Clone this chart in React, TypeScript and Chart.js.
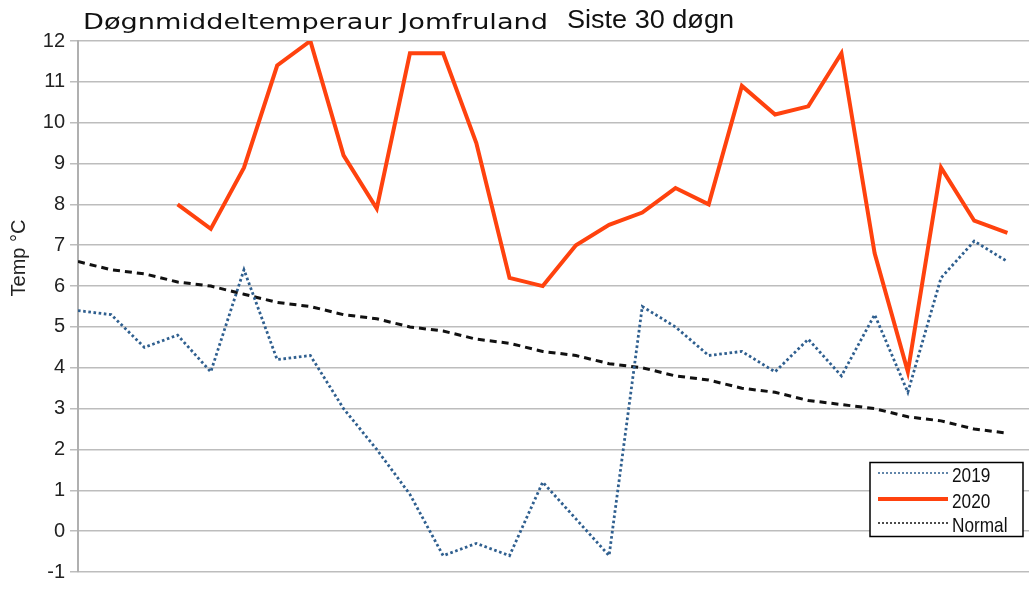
import React, { useEffect, useRef } from "react";
import { Chart, registerables } from "chart.js";

Chart.register(...registerables);

// ---- data ----
const titleMain = "Døgnmiddeltemperaur Jomfruland";
const titleSub = "Siste 30 døgn";
const yAxisTitle = "Temp °C";

const days = [1, 2, 3, 4, 5, 6, 7, 8, 9, 10, 11, 12, 13, 14, 15, 16, 17, 18, 19, 20, 21, 22, 23, 24, 25, 26, 27, 28, 29];

const seriesNames = ["2019", "2020", "Normal"];

const temp2019 = [5.4, 5.3, 4.5, 4.8, 3.9, 6.4, 4.2, 4.3, 3.0, 2.0, 0.9, -0.6, -0.3, -0.6, 1.2, 0.3, -0.6, 5.5, 5.0, 4.3, 4.4, 3.9, 4.7, 3.8, 5.3, 3.4, 6.2, 7.1, 6.6];
const temp2020 = [null, null, null, 8.0, 7.4, 8.9, 11.4, 12.0, 9.2, 7.9, 11.7, 11.7, 9.5, 6.2, 6.0, 7.0, 7.5, 7.8, 8.4, 8.0, 10.9, 10.2, 10.4, 11.7, 6.8, 3.9, 8.9, 7.6, 7.3];
const tempNormal = [6.6, 6.4, 6.3, 6.1, 6.0, 5.8, 5.6, 5.5, 5.3, 5.2, 5.0, 4.9, 4.7, 4.6, 4.4, 4.3, 4.1, 4.0, 3.8, 3.7, 3.5, 3.4, 3.2, 3.1, 3.0, 2.8, 2.7, 2.5, 2.4];

const yMin = -1;
const yMax = 12;

// ---- helpers ----
function toPoints(values: (number | null)[]) {
  return values.map((v, i) => ({ x: i, y: v }));
}

function drawFitText(
  ctx: CanvasRenderingContext2D,
  text: string,
  x: number,
  y: number,
  width: number,
  font: string
) {
  ctx.save();
  ctx.font = font;
  ctx.textAlign = "left";
  ctx.textBaseline = "alphabetic";
  const w = ctx.measureText(text).width;
  ctx.translate(x, y);
  ctx.scale(width / w, 1);
  ctx.fillText(text, 0, 0);
  ctx.restore();
}

const COLOR_2019 = "#2f5f8f";
const COLOR_2020 = "#ff420e";
const COLOR_NORMAL = "#111111";

const decorPlugin = {
  id: "decor",
  afterDraw(chart: any) {
    const ctx: CanvasRenderingContext2D = chart.ctx;
    // titles
    ctx.save();
    ctx.fillStyle = "#111";
    drawFitText(ctx, titleMain, 83, 29, 465, "21px 'DejaVu Sans'");
    drawFitText(ctx, titleSub, 567, 28, 167, "25px 'Liberation Sans'");
    ctx.restore();

    // y axis title
    ctx.save();
    ctx.fillStyle = "#222";
    ctx.font = "20px 'Liberation Sans'";
    ctx.textAlign = "center";
    ctx.textBaseline = "middle";
    ctx.translate(19, 258);
    ctx.rotate(-Math.PI / 2);
    ctx.fillText(yAxisTitle, 0, 0);
    ctx.restore();

    // legend box
    const bx = 870, by = 462.5, bw = 153, bh = 74;
    ctx.save();
    ctx.fillStyle = "#ffffff";
    ctx.fillRect(bx, by, bw, bh);
    ctx.strokeStyle = "#000";
    ctx.lineWidth = 1.5;
    ctx.strokeRect(bx, by, bw, bh);

    const rows = [
      { name: seriesNames[0], color: COLOR_2019, width: 1.5, dash: [2, 2], y: 473, base: 482 },
      { name: seriesNames[1], color: COLOR_2020, width: 4, dash: [], y: 499, base: 508 },
      { name: seriesNames[2], color: COLOR_NORMAL, width: 1.5, dash: [2, 2], y: 523, base: 532 },
    ];
    rows.forEach((r) => {
      ctx.save();
      ctx.strokeStyle = r.color;
      ctx.lineWidth = r.width;
      ctx.setLineDash(r.dash);
      ctx.beginPath();
      ctx.moveTo(878, r.y);
      ctx.lineTo(948, r.y);
      ctx.stroke();
      ctx.restore();
      ctx.save();
      ctx.fillStyle = "#111";
      ctx.font = "21px 'Liberation Sans'";
      ctx.textBaseline = "alphabetic";
      ctx.translate(952, r.base);
      ctx.scale(0.82, 1);
      ctx.fillText(r.name, 0, 0);
      ctx.restore();
    });
    ctx.restore();
  },
};

export default function App() {
  const canvasRef = useRef<HTMLCanvasElement | null>(null);

  useEffect(() => {
    if (!canvasRef.current) return;
    const chart = new Chart(canvasRef.current, {
      type: "line",
      data: {
        labels: days,
        datasets: [
          {
            label: seriesNames[0],
            data: toPoints(temp2019) as any,
            borderColor: COLOR_2019,
            borderWidth: 2.8,
            borderDash: [2.6, 2.6],
            borderCapStyle: "butt",
            pointRadius: 0,
            tension: 0,
            fill: false,
          },
          {
            label: seriesNames[1],
            data: toPoints(temp2020) as any,
            borderColor: COLOR_2020,
            borderWidth: 4,
            pointRadius: 0,
            tension: 0,
            fill: false,
            spanGaps: false,
          },
          {
            label: seriesNames[2],
            data: toPoints(tempNormal) as any,
            borderColor: COLOR_NORMAL,
            borderWidth: 3,
            borderDash: [7, 5],
            pointRadius: 0,
            tension: 0,
            fill: false,
          },
        ],
      },
      options: {
        responsive: false,
        animation: false,
        devicePixelRatio: 1,
        layout: { padding: { top: 41, bottom: 8, left: 0, right: 0 } },
        plugins: {
          legend: { display: false },
          title: { display: false },
          tooltip: { enabled: false },
        },
        scales: {
          x: {
            type: "linear",
            min: 0,
            max: 28.65,
            display: false,
          },
          y: {
            min: yMin,
            max: yMax,
            afterFit: (scale: any) => {
              scale.width = 78;
            },
            ticks: {
              stepSize: 1,
              padding: 5,
              color: "#222",
              font: { family: "'Liberation Sans'", size: 20 },
            },
            grid: {
              color: "#bdbdbd",
              lineWidth: 1.5,
              tickLength: 8,
            },
            border: { display: true, color: "#b0b0b0", width: 2 },
          },
        },
      },
      plugins: [decorPlugin],
    } as any);
    return () => chart.destroy();
  }, []);

  return (
    <div style={{ position: "absolute", left: 0, top: 0, width: 1029, height: 589, background: "#fff" }}>
      <canvas ref={canvasRef} width={1029} height={589} />
    </div>
  );
}
